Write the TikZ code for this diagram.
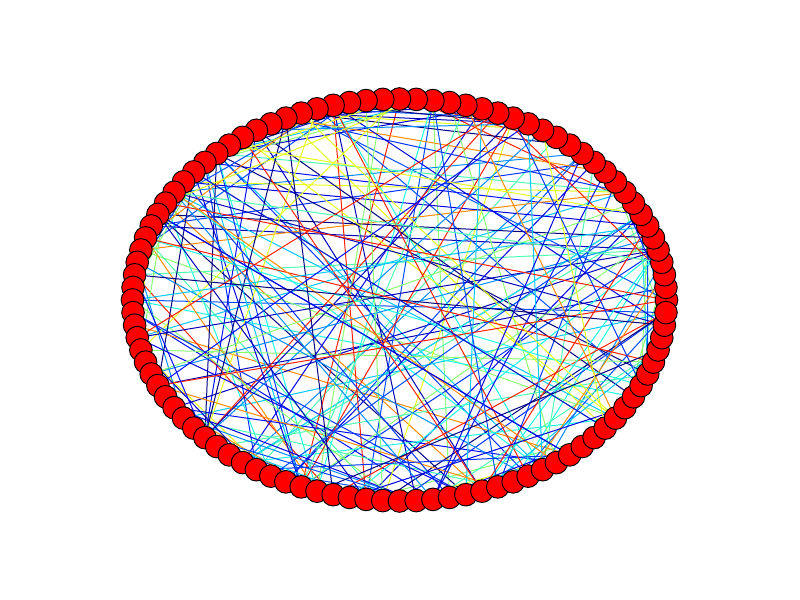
\documentclass[tikz,border=0pt]{standalone}
\usepackage{tikz}
\usetikzlibrary{backgrounds}

% jet colormap samples
\definecolor{jet0}{rgb}{0,0,0.5}
\definecolor{jet1}{rgb}{0,0,0.72}
\definecolor{jet2}{rgb}{0,0,0.9}
\definecolor{jet3}{rgb}{0,0.05,1}
\definecolor{jet4}{rgb}{0,0.3,1}
\definecolor{jet5}{rgb}{0,0.55,1}
\definecolor{jet6}{rgb}{0,0.78,1}
\definecolor{jet7}{rgb}{0.1,1,0.9}
\definecolor{jet8}{rgb}{0.3,1,0.7}
\definecolor{jet9}{rgb}{0.55,1,0.45}
\definecolor{jet10}{rgb}{0.9,1,0.1}
\definecolor{jet11}{rgb}{1,0.55,0}
\definecolor{jet12}{rgb}{0,0.2,1}
\definecolor{jet13}{rgb}{1,0.12,0}

\begin{document}
\begin{tikzpicture}[
    x=0.03cm, y=0.03cm,
    vertex/.style={circle, draw=black, fill=red, line width=0.8pt, minimum size=0.68cm, inner sep=0pt},
    edge/.style={line width=0.85pt, color=#1}
]
\useasboundingbox (0,0) rectangle (800,600);

% ===== NODES ON THE ELLIPSE =====
\foreach \i in {0,...,99}
    \node[vertex] (v\i) at ({399.5+267*cos(3.6*\i)}, {300+201*sin(3.6*\i)}) {};

% ===== EDGES (behind the nodes) =====
\pgfmathsetseed{42}
\begin{pgfonlayer}{background}
\foreach \k in {1,...,230} {
    \pgfmathtruncatemacro\src{random(0,99)}
    \pgfmathtruncatemacro\dst{random(0,99)}
    \pgfmathtruncatemacro\hue{random(0,13)}
    \draw[edge=jet\hue] (v\src.center) -- (v\dst.center);
}
\end{pgfonlayer}

\end{tikzpicture}
\end{document}
